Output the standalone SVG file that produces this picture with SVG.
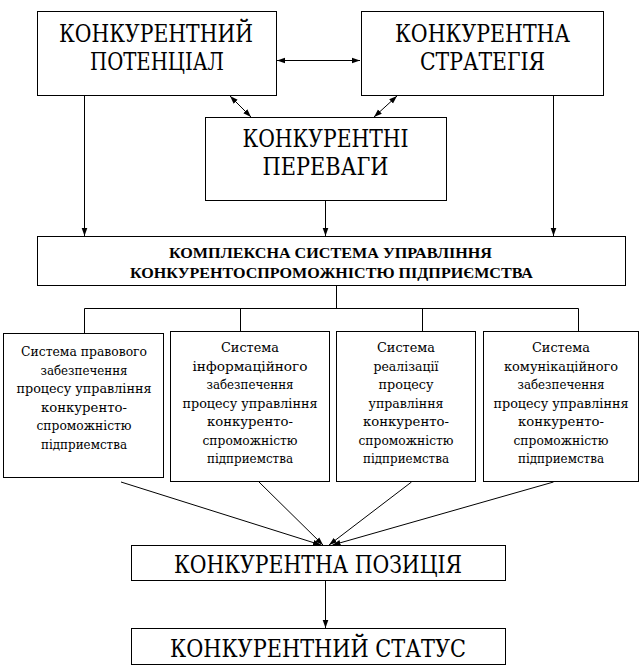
<svg xmlns="http://www.w3.org/2000/svg" width="643" height="667" viewBox="0 0 643 667" font-family="Liberation Serif, Times New Roman, DejaVu Serif, serif">
<style>
text{fill:#000;text-anchor:middle}
.box{fill:#fff;stroke:#000;stroke-width:1}
.big{font-family:DejaVu Serif,Liberation Serif,serif;font-size:24px}
.bold{font-family:Liberation Serif,Times New Roman,serif;font-size:15.5px;font-weight:bold}
.sm{font-family:DejaVu Serif,Liberation Serif,serif;font-size:13.5px}
.ln{stroke:#000;stroke-width:1;fill:none}
</style>
<defs>
<marker id="ah" viewBox="0 0 10 10" refX="10" refY="5" markerWidth="8" markerHeight="8" markerUnits="userSpaceOnUse" orient="auto-start-reverse">
<path d="M0,1.5 L10,5 L0,8.5 z" fill="#000"/>
</marker>
</defs>
<rect width="643" height="667" fill="#fff"/>
<g id="connectors">
<line class="ln" x1="277" y1="60.5" x2="360" y2="60.5" marker-start="url(#ah)" marker-end="url(#ah)"/>
<line class="ln" x1="230" y1="96" x2="251" y2="117" marker-start="url(#ah)" marker-end="url(#ah)"/>
<line class="ln" x1="397" y1="96" x2="374" y2="117" marker-start="url(#ah)" marker-end="url(#ah)"/>
<line class="ln" x1="84.5" y1="95" x2="84.5" y2="236" marker-end="url(#ah)"/>
<line class="ln" x1="325.5" y1="201" x2="325.5" y2="236" marker-end="url(#ah)"/>
<line class="ln" x1="553.5" y1="95" x2="553.5" y2="236" marker-end="url(#ah)"/>
<polyline class="ln" points="336.5,285 336.5,308.5"/>
<polyline class="ln" points="84.5,333 84.5,308.5 578.5,308.5 578.5,332"/>
<line class="ln" x1="240.5" y1="308.5" x2="240.5" y2="332"/>
<line class="ln" x1="422.5" y1="308.5" x2="422.5" y2="332"/>
<line class="ln" x1="121" y1="482" x2="321" y2="545" marker-end="url(#ah)"/>
<line class="ln" x1="259" y1="482" x2="323" y2="545" marker-end="url(#ah)"/>
<line class="ln" x1="411.5" y1="482" x2="329" y2="545" marker-end="url(#ah)"/>
<line class="ln" x1="553.5" y1="482" x2="332.5" y2="545" marker-end="url(#ah)"/>
<line class="ln" x1="325.5" y1="581" x2="325.5" y2="628" marker-end="url(#ah)"/>
</g>
<g id="potential">
<rect class="box" x="37.5" y="11.5" width="239" height="84"/>
<text class="big" x="156" y="42" textLength="194" lengthAdjust="spacingAndGlyphs">КОНКУРЕНТНИЙ</text>
<text class="big" x="157" y="70" textLength="134" lengthAdjust="spacingAndGlyphs">ПОТЕНЦІАЛ</text>
</g>
<g id="strategy">
<rect class="box" x="361.5" y="11.5" width="242" height="84"/>
<text class="big" x="482.5" y="42" textLength="175" lengthAdjust="spacingAndGlyphs">КОНКУРЕНТНА</text>
<text class="big" x="482.5" y="70" textLength="125" lengthAdjust="spacingAndGlyphs">СТРАТЕГІЯ</text>
</g>
<g id="advantages">
<rect class="box" x="205.5" y="117.5" width="241" height="83"/>
<text class="big" x="325.5" y="147" textLength="166" lengthAdjust="spacingAndGlyphs">КОНКУРЕНТНІ</text>
<text class="big" x="325.5" y="175" textLength="126" lengthAdjust="spacingAndGlyphs">ПЕРЕВАГИ</text>
</g>
<g id="complex">
<rect class="box" x="37.5" y="236.5" width="588" height="49"/>
<text class="bold" x="330.5" y="258" textLength="323" lengthAdjust="spacingAndGlyphs">КОМПЛЕКСНА СИСТЕМА УПРАВЛІННЯ</text>
<text class="bold" x="331.5" y="278" textLength="403" lengthAdjust="spacingAndGlyphs">КОНКУРЕНТОСПРОМОЖНІСТЮ ПІДПРИЄМСТВА</text>
</g>
<g id="legal">
<rect class="box" x="3.5" y="333.5" width="160" height="144"/>
<text class="sm" x="84" y="356" textLength="126" lengthAdjust="spacingAndGlyphs">Система правового</text>
<text class="sm" x="84" y="374.5" textLength="87" lengthAdjust="spacingAndGlyphs">забезпечення</text>
<text class="sm" x="84" y="393" textLength="135" lengthAdjust="spacingAndGlyphs">процесу управління</text>
<text class="sm" x="84" y="411.5" textLength="86" lengthAdjust="spacingAndGlyphs">конкуренто-</text>
<text class="sm" x="84" y="430" textLength="95" lengthAdjust="spacingAndGlyphs">спроможністю</text>
<text class="sm" x="84" y="448.5" textLength="86" lengthAdjust="spacingAndGlyphs">підприемства</text>
</g>
<g id="info">
<rect class="box" x="170.5" y="331.5" width="159" height="150"/>
<text class="sm" x="250" y="352" textLength="58" lengthAdjust="spacingAndGlyphs">Система</text>
<text class="sm" x="250" y="370.5" textLength="115" lengthAdjust="spacingAndGlyphs">інформаційного</text>
<text class="sm" x="250" y="389" textLength="87" lengthAdjust="spacingAndGlyphs">забезпечення</text>
<text class="sm" x="250" y="407.5" textLength="135" lengthAdjust="spacingAndGlyphs">процесу управління</text>
<text class="sm" x="250" y="426" textLength="86" lengthAdjust="spacingAndGlyphs">конкуренто-</text>
<text class="sm" x="250" y="444.5" textLength="95" lengthAdjust="spacingAndGlyphs">спроможністю</text>
<text class="sm" x="250" y="463" textLength="86" lengthAdjust="spacingAndGlyphs">підприемства</text>
</g>
<g id="realization">
<rect class="box" x="336.5" y="331.5" width="139" height="150"/>
<text class="sm" x="406" y="352" textLength="58" lengthAdjust="spacingAndGlyphs">Система</text>
<text class="sm" x="406" y="370.5" textLength="65" lengthAdjust="spacingAndGlyphs">реалізації</text>
<text class="sm" x="406" y="389" textLength="55" lengthAdjust="spacingAndGlyphs">процесу</text>
<text class="sm" x="406" y="407.5" textLength="75" lengthAdjust="spacingAndGlyphs">управління</text>
<text class="sm" x="406" y="426" textLength="86" lengthAdjust="spacingAndGlyphs">конкуренто-</text>
<text class="sm" x="406" y="444.5" textLength="95" lengthAdjust="spacingAndGlyphs">спроможністю</text>
<text class="sm" x="406" y="463" textLength="86" lengthAdjust="spacingAndGlyphs">підприемства</text>
</g>
<g id="communication">
<rect class="box" x="483.5" y="331.5" width="155" height="150"/>
<text class="sm" x="561" y="352" textLength="58" lengthAdjust="spacingAndGlyphs">Система</text>
<text class="sm" x="561" y="370.5" textLength="114" lengthAdjust="spacingAndGlyphs">комунікаційного</text>
<text class="sm" x="561" y="389" textLength="87" lengthAdjust="spacingAndGlyphs">забезпечення</text>
<text class="sm" x="561" y="407.5" textLength="135" lengthAdjust="spacingAndGlyphs">процесу управління</text>
<text class="sm" x="561" y="426" textLength="86" lengthAdjust="spacingAndGlyphs">конкуренто-</text>
<text class="sm" x="561" y="444.5" textLength="95" lengthAdjust="spacingAndGlyphs">спроможністю</text>
<text class="sm" x="561" y="463" textLength="86" lengthAdjust="spacingAndGlyphs">підприемства</text>
</g>
<g id="position">
<rect class="box" x="131.5" y="545.5" width="374" height="35"/>
<text class="big" x="318" y="573" textLength="288" lengthAdjust="spacingAndGlyphs">КОНКУРЕНТНА ПОЗИЦІЯ</text>
</g>
<g id="status">
<rect class="box" x="131.5" y="628.5" width="374" height="36"/>
<text class="big" x="318" y="657" textLength="296" lengthAdjust="spacingAndGlyphs">КОНКУРЕНТНИЙ СТАТУС</text>
</g>
</svg>
